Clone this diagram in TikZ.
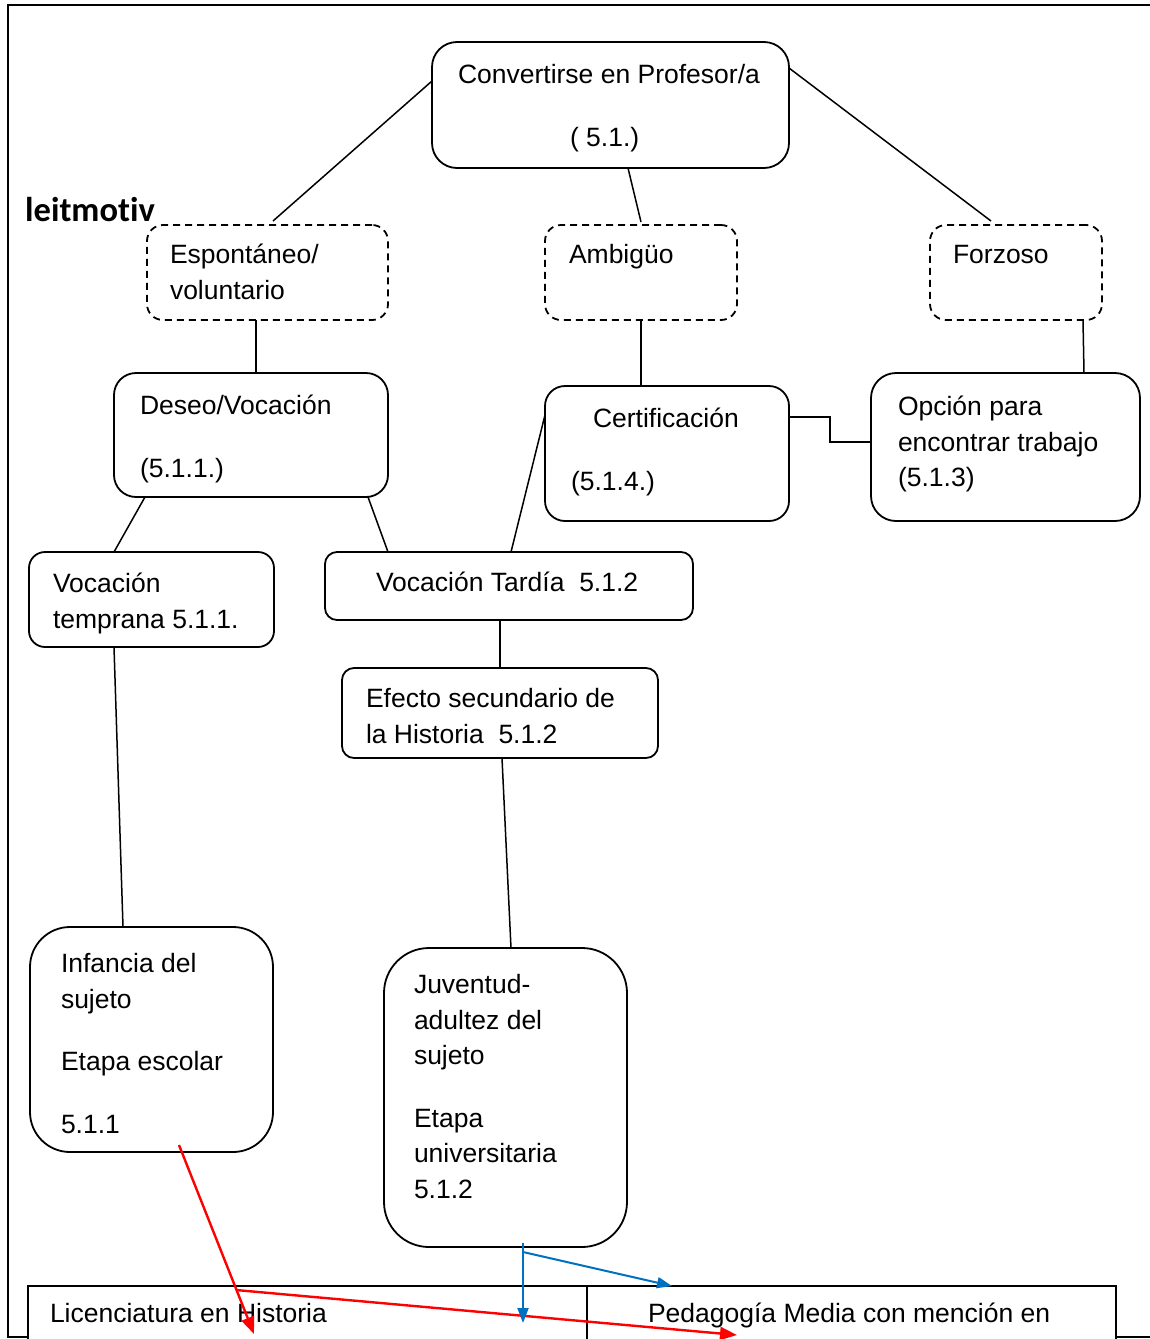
\documentclass[tikz,border=0pt]{standalone}
\usepackage{fontspec}
\setmainfont{Liberation Sans}
\newfontfamily\headfont[Ligatures=NoCommon]{Carlito}
\usetikzlibrary{calc,arrows.meta}
\definecolor{arrowred}{HTML}{FF0000}
\definecolor{arrowblue}{HTML}{0070C0}

\begin{document}
\begin{tikzpicture}[x=1pt,y=-1pt,
  box/.style={draw, line width=1.8pt, anchor=north west, inner sep=0pt, outer sep=0pt},
  dbox/.style={box, dash pattern=on 7pt off 5pt, rounded corners=16pt,
               minimum width=#1, minimum height=95pt},
  cell/.style={draw, line width=1.8pt, fill=white, anchor=north west, inner sep=0pt,
               outer sep=0pt, minimum height=80pt},
  txt/.style={anchor=north west, inner sep=0pt, outer sep=0pt, align=left,
              font=\fontsize{26.5}{35.5}\selectfont},
  link/.style={line width=1.5pt},
  redarrow/.style={draw=arrowred, line width=2.4pt, -{Triangle[length=17pt,width=13pt]}},
  bluearrow/.style={draw=arrowblue, line width=2pt, -{Triangle[length=15pt,width=11pt]}}]

\useasboundingbox (0,0) rectangle (1150,1339);

% page frame
\draw[line width=2.4pt] (1160,5) -- (8,5) -- (8,1337) -- (1160,1337);

% boxes
\node[box, rounded corners=25pt, minimum width=357pt, minimum height=126pt] (top) at (432,42) {};
\node[dbox=241pt] (esp) at (147,225) {};
\node[dbox=192pt] (amb) at (545,225) {};
\node[dbox=172pt] (forz) at (930,225) {};
\node[box, rounded corners=22pt, minimum width=274pt, minimum height=124pt] (deseo) at (114,373) {};
\node[box, rounded corners=20pt, minimum width=244pt, minimum height=135pt] (cert) at (545,386) {};
\node[box, rounded corners=25pt, minimum width=269pt, minimum height=148pt] (opc) at (871,373) {};
\node[box, rounded corners=16pt, minimum width=245pt, minimum height=95pt] (vt) at (29,552) {};
\node[box, rounded corners=12pt, minimum width=368pt, minimum height=68pt] (vtar) at (325,552) {};
\node[box, rounded corners=12pt, minimum width=316pt, minimum height=90pt] (efecto) at (342,668) {};
\node[box, rounded corners=40pt, minimum width=243pt, minimum height=225pt] (inf) at (30,927) {};
\node[box, rounded corners=45pt, minimum width=243pt, minimum height=299pt] (juv) at (384,948) {};

% bottom table
\node[cell, minimum width=559pt] (lic) at (28,1286) {};
\node[cell, minimum width=529pt] (ped) at (587,1286) {};

% texts
\node[txt] (ttop) at (458,59) {\strut Convertirse en Profesor/a\\[27pt]\hspace*{112pt}( 5.1.)};
\node[anchor=base west, inner sep=0pt, font=\headfont\bfseries\fontsize{34.5}{40}\selectfont] (leit) at (25,221) {leitmot\kern0pt iv};
\node[txt] (tesp) at (170,239) {\strut Espontáneo/\\voluntario};
\node[txt] (tamb) at (569,239) {\strut Ambigüo};
\node[txt] (tforz) at (953,239) {\strut Forzoso};
\node[txt] (tdeseo) at (140,390) {\strut Deseo/Vocación\\[27pt](5.1.1.)};
\node[txt] (tcert) at (571,403) {\strut\hspace*{22pt}Certificación\\[27pt](5.1.4.)};
\node[txt] (topc) at (898,391) {\strut Opción para\\encontrar trabajo\\(5.1.3)};
\node[txt] (tvt) at (53,568) {\strut Vocación\\temprana 5.1.1.};
\node[txt] (tvtar) at (376,567) {\strut Vocación Tardía\ \ 5.1.2};
\node[txt] (tefecto) at (366,683) {\strut Efecto secundario de\\la Historia\ \ 5.1.2};
\node[txt] (tinf) at (61,948) {\strut Infancia del\\sujeto\\[27pt]Etapa escolar\\[27pt]5.1.1};
\node[txt] (tjuv) at (414,969) {\strut Juventud-\\adultez del\\sujeto\\[27pt]Etapa\\universitaria\\5.1.2};
\node[txt] (tlic) at (50,1298) {\strut Licenciatura en Historia};
\node[txt] (tped) at (648,1298) {\strut Pedagogía Media con mención en};

% connectors
\draw[link] ([yshift=-39pt]top.north west) -- ([xshift=126pt,yshift=4pt]esp.north west);
\draw[link] ([xshift=196pt]top.south west) -- ([xshift=96pt,yshift=3pt]amb.north west);
\draw[link] ([yshift=-26pt]top.north east) -- ([xshift=61pt,yshift=4pt]forz.north west);
\draw[link] ([xshift=109pt]esp.south west) -- ([xshift=142pt]deseo.north west);
\draw[link] ([xshift=96pt]amb.south west) -- ([xshift=96pt]cert.north west);
\draw[link] ([xshift=153pt]forz.south west) -- ([xshift=213pt]opc.north west);
\draw[link] ([yshift=-31pt]cert.north east) -- ++(41,0) |- ([yshift=-69pt]opc.north west);
\draw[link] ([xshift=31pt]deseo.south west) -- ([xshift=85pt]vt.north west);
\draw[link] ([xshift=254pt]deseo.south west) -- ([xshift=63pt]vtar.north west);
\draw[link] ([yshift=-29pt]cert.north west) -- ([xshift=186pt]vtar.north west);
\draw[link] ([xshift=175pt]vtar.south west) -- ([xshift=158pt]efecto.north west);
\draw[link] ([xshift=85pt]vt.south west) -- ([xshift=93pt]inf.north west);
\draw[link] ([xshift=160pt]efecto.south west) -- ([xshift=127pt]juv.north west);

% coloured arrows
\coordinate (rsplit) at ([xshift=208pt,yshift=-4pt]lic.north west);
\draw[redarrow] ([xshift=149pt,yshift=7pt]inf.south west) -- ([xshift=226pt,yshift=-48pt]lic.north west);
\draw[redarrow] (rsplit) -- ([xshift=150pt,yshift=-49pt]ped.north west);
\coordinate (bsplit) at ([xshift=139pt,yshift=-5pt]juv.south west);
\draw[bluearrow] ([xshift=139pt,yshift=4pt]juv.south west) -- ([xshift=495pt,yshift=-37pt]lic.north west);
\draw[bluearrow] (bsplit) -- ([xshift=85pt]ped.north west);
\end{tikzpicture}
\end{document}
